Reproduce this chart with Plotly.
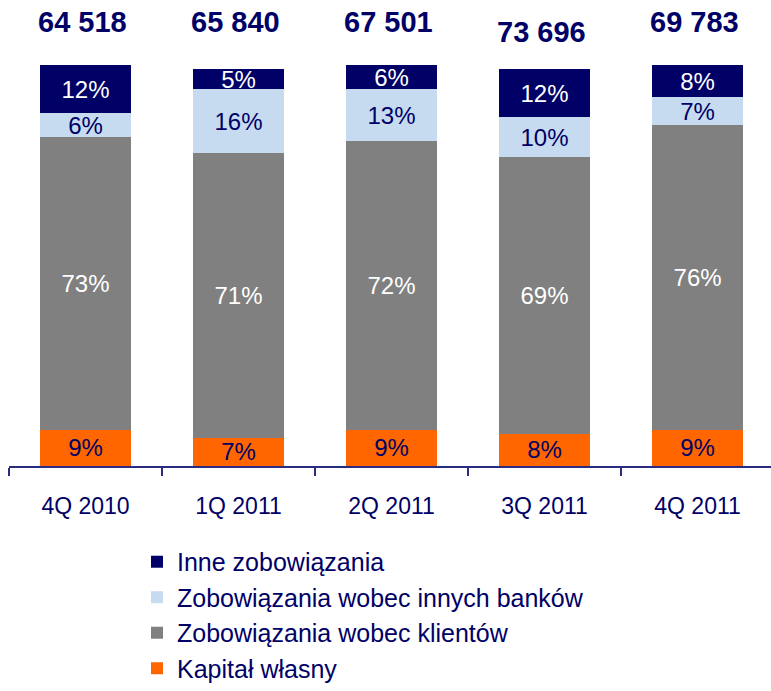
import plotly.graph_objects as go

# Quarterly balance-sheet structure (share of total liabilities, %)
quarters = ["4Q 2010", "1Q 2011", "2Q 2011", "3Q 2011", "4Q 2011"]
totals = ["64 518", "65 840", "67 501", "73 696", "69 783"]

kapital = [9, 7, 9, 8, 9]
klienci = [73, 71, 72, 69, 76]
banki = [6, 16, 13, 10, 7]
inne = [12, 5, 6, 12, 8]

NAVY = "#000066"
LIGHT = "#C6DBF0"
GREY = "#808080"
ORANGE = "#FF6600"
FONT = "Liberation Sans, Arial, sans-serif"

xs = list(range(len(quarters)))

series = [
    ("Kapitał własny", kapital, ORANGE, NAVY),
    ("Zobowiązania wobec klientów", klienci, GREY, "white"),
    ("Zobowiązania wobec innych banków", banki, LIGHT, NAVY),
    ("Inne zobowiązania", inne, NAVY, "white"),
]

fig = go.Figure()
for name, vals, color, tcolor in series:
    fig.add_trace(go.Bar(
        x=xs, y=vals, name=name,
        marker=dict(color=color, line=dict(width=0)),
        text=[f"{v}%" for v in vals],
        textposition="inside", insidetextanchor="middle",
        textfont=dict(family=FONT, size=24, color=tcolor),
        constraintext="none",
        hoverinfo="skip",
    ))

# Totals above each column (paper-relative height)
label_y = [1.107, 1.107, 1.107, 1.082, 1.107]
for x, t, ly in zip(xs, totals, label_y):
    fig.add_annotation(x=x - 0.02, xref="x", y=ly, yref="paper", text=f"<b>{t}</b>",
                       showarrow=False,
                       font=dict(family=FONT, size=29, color=NAVY),
                       xanchor="center", yanchor="middle")

fig.update_layout(
    barmode="stack",
    bargap=0.41,
    width=771, height=691,
    margin=dict(l=9, r=0, t=65, b=225),
    paper_bgcolor="white", plot_bgcolor="white",
    uniformtext=dict(minsize=24, mode="show"),
    showlegend=True,
    legend=dict(
        traceorder="reversed",
        x=0.168, xanchor="left", y=-0.182, yanchor="top",
        font=dict(family=FONT, size=25, color=NAVY),
        itemwidth=30,
        bgcolor="rgba(0,0,0,0)",
    ),
    xaxis=dict(
        range=[-0.5, 4.48],
        tickmode="array", tickvals=xs, ticktext=quarters,
        ticks="", showgrid=False, zeroline=False,
        showline=True, linecolor="#2B2B80", linewidth=2,
        tickfont=dict(family=FONT, size=23, color=NAVY),
        ticklabelstandoff=18,
        minor=dict(tickvals=[-0.5, 0.5, 1.5, 2.5, 3.5], ticks="outside",
                   ticklen=8, tickwidth=2, tickcolor="#2B2B80", showgrid=False),
    ),
    yaxis=dict(range=[0, 100], visible=False, showgrid=False, zeroline=False),
)

fig.write_html("out.html")
